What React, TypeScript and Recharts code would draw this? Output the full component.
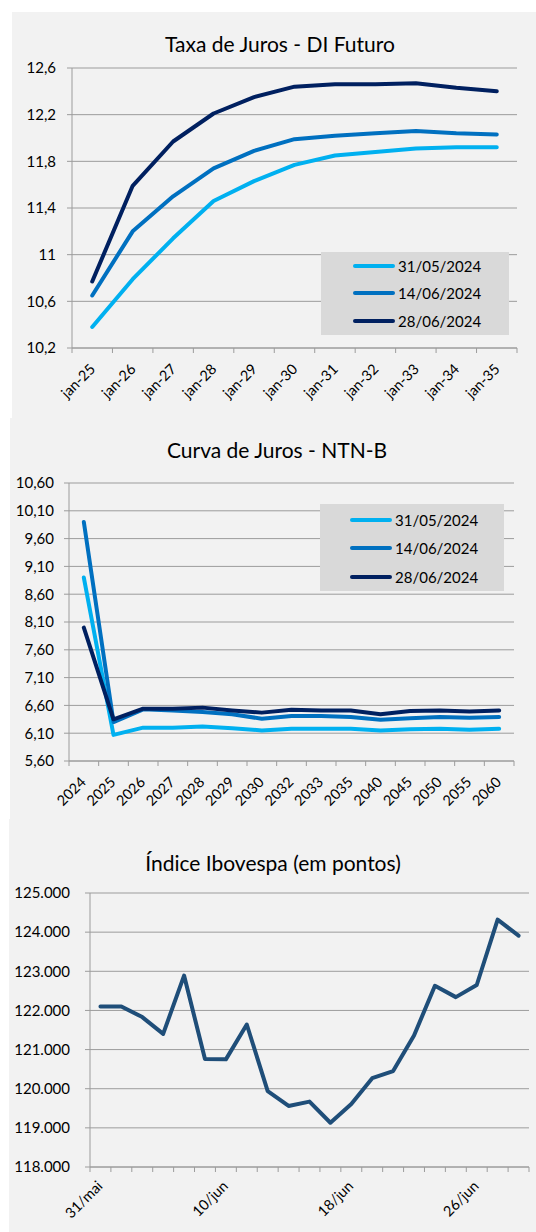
import React from 'react';
import { LineChart, Line, XAxis, YAxis, CartesianGrid, Legend } from 'recharts';

const FONT = 'Lato, "Open Sans", sans-serif';
const GRID = '#9c9c9c';

// ---------- Data ----------
const seriesLabels = ['31/05/2024', '14/06/2024', '28/06/2024'];
const seriesColors = ['#00B0F0', '#0070C0', '#002060'];

const diCategories = ['jan-25', 'jan-26', 'jan-27', 'jan-28', 'jan-29', 'jan-30', 'jan-31', 'jan-32', 'jan-33', 'jan-34', 'jan-35'];
const di3105 = [10.38, 10.79, 11.14, 11.46, 11.63, 11.77, 11.85, 11.88, 11.91, 11.92, 11.92];
const di1406 = [10.65, 11.2, 11.5, 11.74, 11.89, 11.99, 12.02, 12.04, 12.06, 12.04, 12.03];
const di2806 = [10.77, 11.59, 11.97, 12.21, 12.35, 12.44, 12.46, 12.46, 12.47, 12.43, 12.4];
const diTicks = [10.2, 10.6, 11, 11.4, 11.8, 12.2, 12.6];
const diTickLabels = ['10,2', '10,6', '11', '11,4', '11,8', '12,2', '12,6'];

const ntnbCategories = ['2024', '2025', '2026', '2027', '2028', '2029', '2030', '2032', '2033', '2035', '2040', '2045', '2050', '2055', '2060'];
const ntnb3105 = [8.9, 6.07, 6.2, 6.2, 6.22, 6.19, 6.15, 6.18, 6.18, 6.18, 6.15, 6.17, 6.18, 6.16, 6.18];
const ntnb1406 = [9.9, 6.3, 6.53, 6.51, 6.48, 6.44, 6.36, 6.41, 6.41, 6.39, 6.34, 6.37, 6.39, 6.38, 6.39];
const ntnb2806 = [8.0, 6.35, 6.54, 6.54, 6.56, 6.51, 6.47, 6.52, 6.51, 6.51, 6.44, 6.5, 6.51, 6.49, 6.51];
const ntnbTicks = [5.6, 6.1, 6.6, 7.1, 7.6, 8.1, 8.6, 9.1, 9.6, 10.1, 10.6];
const ntnbTickLabels = ['5,60', '6,10', '6,60', '7,10', '7,60', '8,10', '8,60', '9,10', '9,60', '10,10', '10,60'];

const iboDates = ['31/mai', '03/jun', '04/jun', '05/jun', '06/jun', '07/jun', '10/jun', '11/jun', '12/jun', '13/jun', '14/jun', '17/jun', '18/jun', '19/jun', '20/jun', '21/jun', '24/jun', '25/jun', '26/jun', '27/jun', '28/jun'];
const iboValues = [122100, 122100, 121830, 121400, 122890, 120760, 120750, 121640, 119940, 119560, 119670, 119130, 119610, 120270, 120450, 121360, 122630, 122340, 122650, 124320, 123910];
const iboTicks = [118000, 119000, 120000, 121000, 122000, 123000, 124000, 125000];
const iboTickLabels = ['118.000', '119.000', '120.000', '121.000', '122.000', '123.000', '124.000', '125.000'];
const iboColor = '#1F4E79';
const iboLabelEvery = 6;

// ---------- Tables ----------
const diData = diCategories.map((c, i) => ({ cat: c, s1: di3105[i], s2: di1406[i], s3: di2806[i] }));
const ntnbData = ntnbCategories.map((c, i) => ({ cat: c, s1: ntnb3105[i], s2: ntnb1406[i], s3: ntnb2806[i] }));
const iboData = iboDates.map((d, i) => ({ cat: d, v: iboValues[i] }));

// ---------- Helpers ----------
const makeYFormatter = (ticks: number[], labels: string[]) => (v: number) => {
  const idx = ticks.findIndex((t) => Math.abs(t - v) < 1e-6);
  return idx >= 0 ? labels[idx] : String(v);
};

const makeXTick = (o: { n: number; plotW: number; dx: number; dy: number; every: number; fs: number }) =>
  (props: any) => {
    const { x, y, payload, index } = props;
    const half = o.plotW / o.n / 2;
    const ax = x + o.dx;
    const ay = y + o.dy;
    return (
      <g>
        <line x1={x - half} y1={y} x2={x - half} y2={y + 5} stroke={GRID} strokeWidth={1} />
        {index === o.n - 1 && <line x1={x + half} y1={y} x2={x + half} y2={y + 5} stroke={GRID} strokeWidth={1} />}
        {index % o.every === 0 && (
          <text x={ax} y={ay} textAnchor="end" transform={`rotate(-45 ${ax} ${ay})`} fontFamily={FONT} fontSize={o.fs} fill="#000">
            {payload.value}
          </text>
        )}
      </g>
    );
  };

const makeLegend = (o: { w: number; h: number; first: number; gap: number; lineX: number }) =>
  () => (
    <div style={{ width: o.w, height: o.h, background: '#d9d9d9', position: 'relative', fontFamily: FONT, fontSize: 15, color: '#000' }}>
      {seriesLabels.map((label, i) => (
        <div key={i} style={{ position: 'absolute', left: o.lineX, top: o.first + i * o.gap - 10, height: 20, display: 'flex', alignItems: 'center' }}>
          <div style={{ width: 42, height: 4, borderRadius: 2, background: seriesColors[i] }} />
          <span style={{ marginLeft: 3, lineHeight: '20px' }}>{label}</span>
        </div>
      ))}
    </div>
  );

const Title = ({ text, cx, cy }: { text: string; cx: number; cy: number }) => (
  <div style={{ position: 'absolute', left: cx - 200, top: cy - 13, width: 400, textAlign: 'center', fontFamily: FONT, fontSize: 21, lineHeight: '26px', color: '#000' }}>
    {text}
  </div>
);

const Panel = ({ l, t, h }: { l: number; t: number; h: number }) => (
  <div style={{ position: 'absolute', left: l, top: t, width: 536 - l, height: h, background: '#f2f2f2' }} />
);

const seriesLines = [0, 1, 2].map((i) => (
  <Line
    key={i}
    type="linear"
    dataKey={`s${i + 1}`}
    name={seriesLabels[i]}
    stroke={seriesColors[i]}
    strokeWidth={4}
    dot={false}
    activeDot={false}
    strokeLinecap="round"
    strokeLinejoin="round"
    isAnimationActive={false}
  />
));

const yTickStyle = { fill: '#000', fontSize: 15, fontFamily: FONT };

export default function App() {
  return (
    <div style={{ position: 'absolute', left: 0, top: 0, width: 536, height: 1232, background: '#fff', overflow: 'hidden' }}>
      <Panel l={12} t={12} h={406} />
      <Panel l={10} t={418} h={401} />
      <Panel l={9} t={819} h={413} />

      {/* Chart 1 */}
      <div style={{ position: 'absolute', left: 0, top: 0 }}>
        <LineChart width={536} height={418} data={diData} margin={{ top: 68, right: 19, left: 0, bottom: 0 }}>
          <CartesianGrid vertical={false} stroke={GRID} strokeWidth={1} />
          <XAxis dataKey="cat" scale="band" height={70} interval={0} tickSize={0} tickMargin={0} stroke={GRID}
            tick={makeXTick({ n: diCategories.length, plotW: 445, dx: 4, dy: 22, every: 1, fs: 14.5 })} />
          <YAxis type="number" width={72} domain={[10.2, 12.6]} ticks={diTicks} interval={0} tickSize={5} tickMargin={11}
            stroke={GRID} tick={yTickStyle} tickFormatter={makeYFormatter(diTicks, diTickLabels)} allowDataOverflow />
          {seriesLines}
          <Legend layout="vertical" align="center" verticalAlign="middle"
            wrapperStyle={{ left: 321, top: 252, width: 188, height: 83, margin: 0 }}
            content={makeLegend({ w: 188, h: 83, first: 14, gap: 27.3, lineX: 32 })} />
        </LineChart>
      </div>
      <Title text="Taxa de Juros - DI Futuro" cx={280} cy={44} />

      {/* Chart 2 */}
      <div style={{ position: 'absolute', left: 0, top: 418 }}>
        <LineChart width={536} height={401} data={ntnbData} margin={{ top: 65, right: 22, left: 0, bottom: 0 }}>
          <CartesianGrid vertical={false} stroke={GRID} strokeWidth={1} />
          <XAxis dataKey="cat" scale="band" height={58} interval={0} tickSize={0} tickMargin={0} stroke={GRID}
            tick={makeXTick({ n: ntnbCategories.length, plotW: 445, dx: 3, dy: 22, every: 1, fs: 14.5 })} />
          <YAxis type="number" width={69} domain={[5.6, 10.6]} ticks={ntnbTicks} interval={0} tickSize={5} tickMargin={10}
            stroke={GRID} tick={yTickStyle} tickFormatter={makeYFormatter(ntnbTicks, ntnbTickLabels)} allowDataOverflow />
          {seriesLines}
          <Legend layout="vertical" align="center" verticalAlign="middle"
            wrapperStyle={{ left: 320, top: 86, width: 184, height: 87, margin: 0 }}
            content={makeLegend({ w: 184, h: 87, first: 15.6, gap: 28.5, lineX: 30 })} />
        </LineChart>
      </div>
      <Title text="Curva de Juros - NTN-B" cx={277} cy={450} />

      {/* Chart 3 */}
      <div style={{ position: 'absolute', left: 0, top: 819 }}>
        <LineChart width={536} height={413} data={iboData} margin={{ top: 74, right: 7, left: 0, bottom: 0 }}>
          <CartesianGrid vertical={false} stroke={GRID} strokeWidth={1} />
          <XAxis dataKey="cat" scale="band" height={65} interval={0} tickSize={0} tickMargin={0} stroke={GRID}
            tick={makeXTick({ n: iboDates.length, plotW: 439, dx: 3, dy: 20, every: iboLabelEvery, fs: 14.5 })} />
          <YAxis type="number" width={90} domain={[118000, 125000]} ticks={iboTicks} interval={0} tickSize={5} tickMargin={15}
            stroke={GRID} tick={yTickStyle} tickFormatter={makeYFormatter(iboTicks, iboTickLabels)} allowDataOverflow />
          <Line type="linear" dataKey="v" name="Ibovespa" stroke={iboColor} strokeWidth={4} dot={false} activeDot={false}
            strokeLinecap="round" strokeLinejoin="round" isAnimationActive={false} />
        </LineChart>
      </div>
      <Title text="Índice Ibovespa (em pontos)" cx={273} cy={863} />
    </div>
  );
}
